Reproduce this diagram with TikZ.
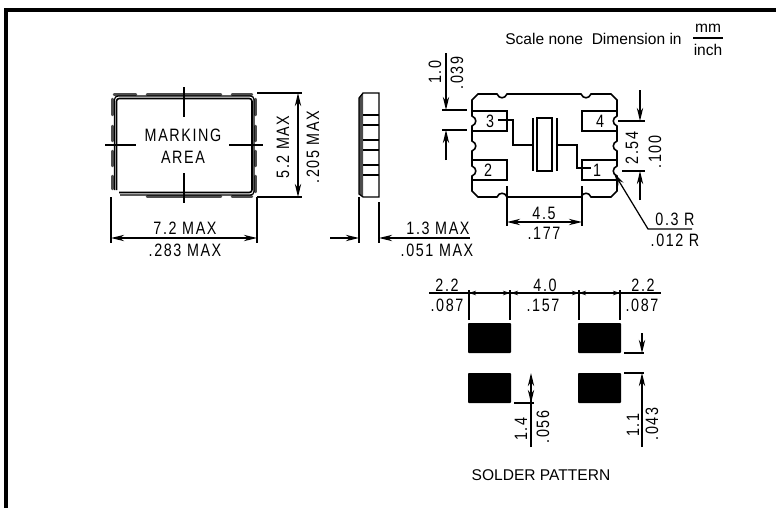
\documentclass[tikz,border=0pt]{standalone}
\usepackage{fontspec}
\setmainfont{Liberation Sans}
\newfontfamily\dimfont[LetterSpace=9,FakeStretch=0.8]{Liberation Sans}
\usetikzlibrary{arrows.meta}
\tikzset{
    thinline/.style={line width=0.7pt},
    partline/.style={line width=0.9pt},
    dimarrow/.style={line width=0.7pt, -{Stealth[length=7.5pt,width=3.6pt]}},
    bothwayarrow/.style={line width=0.7pt, {Stealth[length=7.5pt,width=3.6pt]}-{Stealth[length=7.5pt,width=3.6pt]}},
    smallarrow/.style={line width=0.7pt, -{Stealth[length=4pt,width=2.6pt]}},
    dimtext/.style={font=\dimfont\fontsize{10.2}{11.5}\selectfont, inner sep=0pt, align=center},
    plaintext/.style={font=\fontsize{8.85}{10}\selectfont, inner sep=0pt},
}
\begin{document}
\begin{tikzpicture}[x=0.02cm, y=-0.02cm]
        \useasboundingbox (0,0) rectangle (776,508);
        \draw[line width=1.9pt] (776,10) -- (6,10) -- (6,508);

        \node[plaintext, anchor=east] (scale) at (682,39) {Scale none\ \ Dimension in};
        \node[plaintext] (mm) at (708,28) {mm};
        \node[plaintext] (inch) at (708,50) {inch};
        \draw[thinline] (693,38) -- (723,38);

        % marking area view
        \draw[line width=1.4pt, gray!60!black, line cap=round]
        (114,94.5) -- (136,94.5) (147,94.5) -- (221,94.5) (232,94.5) -- (252,94.5)
        (147,196.5) -- (221,196.5) (232,196.5) -- (252,196.5)
        (112.5,99) -- (112.5,115) (112.5,126) -- (112.5,141) (112.5,151) -- (112.5,166) (112.5,176) -- (112.5,189)
        (255.5,99) -- (255.5,115) (255.5,126) -- (255.5,141) (255.5,151) -- (255.5,166) (255.5,176) -- (255.5,192);
        \draw[thinline, rounded corners=2pt] (114.5,190) -- (114.5,96) -- (254,96) -- (254,195) -- (120,195);
        \draw[partline, rounded corners=1.5pt] (116.5,190) -- (116.5,98.5) -- (252,98.5) -- (252,192.5) -- (119,192.5);
        \draw[thinline] (184,87) -- (184,117);
        \draw[thinline] (184,173) -- (184,203);
        \draw[thinline] (105,145) -- (136,145);
        \draw[thinline] (229,145) -- (263,145);
        \node[dimtext] (marking) at (183,146) {MARKING\\[1pt]AREA};

        \draw[thinline] (257,93) -- (302,93);
        \draw[thinline] (257,197) -- (302,197);
        \draw[bothwayarrow] (298,93) -- (298,197);
        \node[dimtext, rotate=90] (h1) at (283,147) {5.2 MAX};
        \node[dimtext, rotate=90] (h2) at (313,147) {.205 MAX};

        \draw[thinline] (111,197) -- (111,243);
        \draw[thinline] (257,197) -- (257,243);
        \draw[bothwayarrow] (111,238) -- (257,238);
        \node[dimtext] (w1) at (185,228) {7.2 MAX};
        \node[dimtext] (w2) at (185,250) {.283 MAX};

        % side view
        \fill[gray!60!black] (359,98) -- (363,93) -- (363,197) -- (359,194) -- cycle;
        \draw[thinline] (359,98) -- (363,93) -- (379,93) -- (379,197) -- (363,197) -- (359,194) -- cycle;
        \foreach \y in {115,125,140,150,165,175} {
            \draw[thinline] (363,\y) -- (379,\y);
        }
        \draw[thinline] (359,197) -- (359,243);
        \draw[thinline] (379,202) -- (379,243);
        \draw[dimarrow] (330,238) -- (359,238);
        \draw[dimarrow] (470,238) -- (379,238);
        \node[dimtext] (t1) at (438,228) {1.3 MAX};
        \node[dimtext] (t2) at (437,250) {.051 MAX};

        % bottom view
        \draw[partline] (478,94) -- (497,94) .. controls (499,99) and (505,99) .. (507,94)
        -- (581,94) .. controls (583,99) and (589,99) .. (591,94) -- (611,94) -- (617,100)
        -- (617,116) .. controls (612,118) and (612,124) .. (617,126)
        -- (617,141) .. controls (612,143) and (612,149) .. (617,151)
        -- (617,166) .. controls (612,168) and (612,174) .. (617,176)
        -- (617,191) -- (611,197) -- (591,197) .. controls (589,192) and (583,192) .. (581,197)
        -- (507,197) .. controls (505,192) and (499,192) .. (497,197) -- (478,197) -- (472,191)
        -- (472,176) .. controls (477,174) and (477,168) .. (472,166)
        -- (472,151) .. controls (477,149) and (477,143) .. (472,141)
        -- (472,126) .. controls (477,124) and (477,118) .. (472,116) -- (472,100) -- cycle;
        \draw[thinline] (472,111) -- (507,111) -- (507,131) -- (472,131);
        \draw[thinline] (472,160) -- (507,160) -- (507,180) -- (472,180);
        \draw[thinline] (617,111) -- (582,111) -- (582,131) -- (617,131);
        \draw[thinline] (617,160) -- (582,160) -- (582,180) -- (617,180);
        \node[dimtext] (pin3) at (490,121) {3};
        \node[dimtext] (pin2) at (488,170) {2};
        \node[dimtext] (pin4) at (600,121) {4};
        \node[dimtext] (pin1) at (597,170) {1};
        \draw[thinline] (498,120) -- (513,120) -- (513,145) -- (533,145);
        \draw[thinline] (557,145) -- (577,145) -- (577,168) -- (591,168);
        \draw[partline] (533,118) -- (533,171);
        \draw[partline] (557,118) -- (557,171);
        \draw[thinline] (537,118) rectangle (552,171);

        \draw[thinline] (442,110) -- (467,110);
        \draw[thinline] (442,130) -- (467,130);
        \draw[dimarrow] (446,53) -- (446,110);
        \draw[dimarrow] (446,160) -- (446,130);
        \node[dimtext, rotate=90] (p1) at (435,72) {1.0};
        \node[dimtext, rotate=90] (p2) at (457,73) {.039};

        \draw[thinline] (618,121) -- (645,121);
        \draw[thinline] (622,171) -- (645,171);
        \draw[dimarrow] (640,90) -- (640,121);
        \draw[dimarrow] (640,200) -- (640,171);
        \node[dimtext, rotate=90] (q1) at (632,148) {2.54};
        \node[dimtext, rotate=90] (q2) at (655,152) {.100};

        \draw[thinline] (507,186) -- (507,226);
        \draw[thinline] (582,186) -- (582,226);
        \draw[bothwayarrow] (507,222) -- (582,222);
        \node[dimtext] (c1) at (544,213) {4.5};
        \node[dimtext] (c2) at (544,233) {.177};

        \draw[dimarrow] (692,229) -- (648,229) -- (614,173);
        \node[dimtext] (r1) at (675,219) {0.3 R};
        \node[dimtext] (r2) at (675,240) {.012 R};

        % solder pattern
        \fill[rounded corners=0.5pt] (468,323) rectangle (511,353);
        \fill[rounded corners=0.5pt] (578,323) rectangle (621,353);
        \fill[rounded corners=0.5pt] (468,373) rectangle (511,403);
        \fill[rounded corners=0.5pt] (578,373) rectangle (621,403);

        \draw[thinline] (429,293) -- (661,293);
        \foreach \x in {469,510,579,620} {
            \draw[thinline] (\x,290) -- (\x,320);
        }
        \foreach \x in {469,579} {
            \draw[smallarrow] (\x+10,293) -- (\x,293);
        }
        \foreach \x in {510,620} {
            \draw[smallarrow] (\x-10,293) -- (\x,293);
        }
        \draw[smallarrow] (521,293) -- (511,293);
        \draw[smallarrow] (569,293) -- (579,293);
        \node[dimtext] (s1) at (447,285) {2.2};
        \node[dimtext] (s2) at (447,305) {.087};
        \node[dimtext] (s3) at (545,285) {4.0};
        \node[dimtext] (s4) at (543,305) {.157};
        \node[dimtext] (s5) at (643,285) {2.2};
        \node[dimtext] (s6) at (642,305) {.087};

        \draw[thinline] (514,403) -- (534,403);
        \draw[dimarrow] (531,447) -- (531,373);
        \draw[dimarrow] (531,385) -- (531,403);
        \node[dimtext, rotate=90] (a1) at (521,429) {1.4};
        \node[dimtext, rotate=90] (a2) at (543,427) {.056};

        \draw[thinline] (624,353) -- (644,353);
        \draw[thinline] (624,373) -- (644,373);
        \draw[dimarrow] (642,333) -- (642,353);
        \draw[dimarrow] (642,447) -- (642,373);
        \node[dimtext, rotate=90] (b1) at (633,425) {1.1};
        \node[dimtext, rotate=90] (b2) at (652,424) {.043};

        \node[plaintext] (solder) at (541,475) {SOLDER PATTERN};
    \end{tikzpicture}
\end{document}
